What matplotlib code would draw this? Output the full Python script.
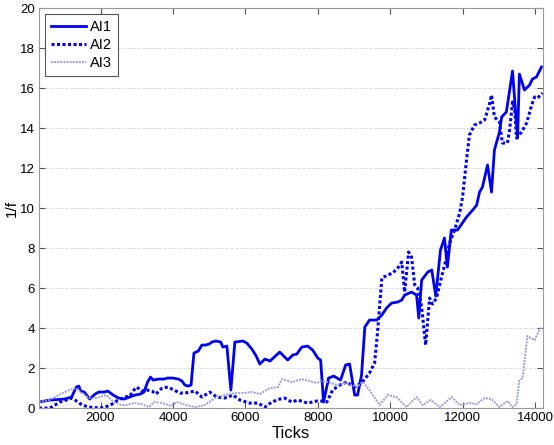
import numpy as np
import matplotlib
matplotlib.use("Agg")
import matplotlib.pyplot as plt

plt.rcParams['font.family'] = ['Liberation Sans', 'DejaVu Sans']

# AI1 (solid)
ai1_x = [300, 600, 1000, 1200, 1330, 1400, 1450, 1550, 1700, 1850, 1950, 2100, 2200,
         2350, 2500, 2650, 2800, 2950, 3100, 3200, 3300, 3380, 3450, 3600, 3750, 3850,
         4000, 4150, 4250, 4330, 4420, 4500, 4580, 4700, 4800, 4900, 5000, 5076, 5186,
         5320, 5380, 5490, 5600, 5710, 5930, 6040, 6180, 6300, 6400, 6540, 6680, 6950,
         7170, 7310, 7420, 7560, 7720, 7860, 8000, 8080, 8160, 8300, 8440, 8630, 8770,
         8880, 9020, 9100, 9210, 9300, 9430, 9630, 9770, 9900, 10040, 10210, 10320,
         10400, 10590, 10730, 10790, 10870, 11040, 11150, 11260, 11390, 11500, 11580,
         11690, 11860, 12110, 12280, 12390, 12470, 12550, 12690, 12800, 12880, 13020,
         13080, 13210, 13380, 13520, 13570, 13710, 13850, 13930, 14040, 14180]
ai1_y = [0.3, 0.4, 0.45, 0.55, 1.05, 1.1, 0.85, 0.8, 0.45, 0.7, 0.8, 0.8, 0.85,
         0.65, 0.5, 0.45, 0.55, 0.65, 0.7, 0.8, 1.3, 1.55, 1.4, 1.45, 1.45, 1.5,
         1.5, 1.45, 1.35, 1.15, 1.1, 1.15, 2.75, 2.85, 3.15, 3.15, 3.2, 3.3, 3.35,
         3.3, 3.05, 3.1, 0.9, 3.3, 3.35, 3.25, 2.95, 2.6, 2.2, 2.45, 2.35, 2.8,
         2.4, 2.65, 2.7, 3.05, 3.1, 2.9, 2.5, 2.4, 0.3, 1.5, 1.6, 1.4, 2.15,
         2.2, 0.65, 0.65, 1.65, 4.05, 4.4, 4.4, 4.65, 5.0, 5.25, 5.3, 5.4,
         5.65, 5.8, 5.65, 4.5, 6.4, 6.8, 6.9, 5.6, 7.9, 8.5, 7.05,
         8.9, 8.9, 9.55, 9.9, 10.15, 10.8, 11.05, 12.15, 10.8, 12.9, 13.8,
         14.55, 14.8, 16.85, 13.5, 16.7, 15.9, 16.15, 16.45, 16.55, 17.05]

# AI2 (dotted)
ai2_x = [300, 600, 880, 1050, 1210, 1380, 1490, 1680, 1990, 2130, 2320, 2480, 2680,
         2810, 2920, 3010, 3120, 3280, 3420, 3530, 3700, 3860, 4030, 4190, 4330, 4470,
         4610, 4800, 5020, 5210, 5430, 5660, 5850, 6120, 6350, 6540, 6730, 6950, 7090,
         7280, 7450, 7720, 7970, 8140, 8250, 8410, 8610, 8800, 9020, 9210, 9430, 9570,
         9650, 9770, 9930, 10070, 10210, 10320, 10400, 10510, 10590, 10680, 10760,
         10870, 10980, 11090, 11170, 11280, 11420, 11560, 11640, 11780, 11920, 12000,
         12110, 12190, 12330, 12470, 12610, 12750, 12800, 12880, 13020, 13100, 13240,
         13300, 13380, 13440, 13490, 13630, 13770, 13910, 13990, 14070, 14210]
ai2_y = [0.0, 0.0, 0.3, 0.4, 0.5, 0.3, 0.15, 0.05, 0.0, 0.05, 0.2, 0.4, 0.55,
         0.6, 0.9, 1.05, 0.85, 0.9, 0.85, 0.7, 1.0, 1.05, 0.9, 0.75, 0.75, 0.8,
         0.85, 0.55, 0.8, 0.55, 0.5, 0.65, 0.4, 0.25, 0.25, 0.05, 0.3, 0.45, 0.5,
         0.3, 0.4, 0.25, 0.35, 0.35, 0.3, 0.9, 1.15, 1.3, 1.05, 1.25, 1.75, 2.25,
         3.75, 6.5, 6.65, 6.75, 7.0, 7.3, 5.8, 7.8, 7.55, 6.15, 6.0,
         5.05, 3.15, 5.5, 5.2, 5.5, 6.55, 7.55, 8.25, 8.9, 9.75, 10.55,
         12.4, 13.65, 14.15, 14.25, 14.4, 15.25, 15.65, 14.55, 14.3, 13.25, 13.25,
         13.9, 15.3, 15.0, 13.5, 13.8, 14.25, 15.15, 15.55, 15.5, 15.75]

# AI3 (light dotted)
ai3_x = [300, 580, 850, 1130, 1320, 1490, 1680, 1880, 2150, 2370, 2570, 2700, 2920,
         3140, 3340, 3480, 3700, 3950, 4110, 4360, 4610, 4880, 5160, 5430, 5710, 5930,
         6180, 6400, 6680, 6900, 7010, 7280, 7560, 7780, 7970, 8110, 8390, 8520, 8800,
         9080, 9240, 9430, 9710, 9930, 10180, 10450, 10730, 10900, 11120, 11370, 11700,
         11920, 12190, 12390, 12600, 12800, 13020, 13240, 13380, 13490, 13570, 13660,
         13790, 13990, 14120, 14210]
ai3_y = [0.3, 0.4, 0.65, 0.9, 1.0, 0.75, 0.5, 0.5, 0.65, 0.3, 0.15, 0.15, 0.25,
         0.2, 0.05, 0.3, 0.25, 0.1, 0.3, 0.15, 0.05, 0.15, 0.5, 0.65, 0.75, 0.75,
         0.8, 0.7, 1.0, 1.05, 1.45, 1.3, 1.45, 1.35, 1.25, 1.35, 1.25, 1.15, 1.25,
         1.05, 1.3, 0.9, 0.15, 0.65, 0.55, 0.05, 0.55, 0.15, 0.4, 0.05, 0.55,
         0.15, 0.25, 0.2, 0.5, 0.45, 0.05, 0.35, 0.05, 0.2, 1.4, 1.5,
         3.6, 3.4, 3.9, 4.05]

x_ticks = [2000, 4000, 6000, 8000, 10000, 12000, 14000]
y_ticks = [0, 2, 4, 6, 8, 10, 12, 14, 16, 18, 20]

fig = plt.figure(figsize=(5.54, 4.45), dpi=100)
ax = fig.add_axes([0.0704, 0.083, 0.9096, 0.899])

ax.plot(ai1_x, ai1_y, color='#0000f0', lw=2.0, ls='-', label='AI1')
ax.plot(ai2_x, ai2_y, color='#0000f0', lw=2.2, ls=(0, (1, 0.8)), label='AI2')
ax.plot(ai3_x, ai3_y, color='#9c9cd8', lw=1.4, ls=(0, (1, 0.6)), label='AI3')

ax.set_xlim(300, 14220)
ax.set_ylim(0, 20)
ax.set_xticks(x_ticks)
ax.set_yticks(y_ticks)
ax.yaxis.grid(True, color='#dddddd', ls='--', lw=0.7)
ax.set_axisbelow(True)
ax.tick_params(direction='in', top=True, right=True, labelsize=9.5, length=4,
               color='#555555', pad=3)
for s in ax.spines.values():
    s.set_color('#999999')

ax.set_xlabel('Ticks', fontsize=12, labelpad=1)
ax.set_ylabel('1/f', fontsize=11, labelpad=1)

leg = ax.legend(loc='upper left', fontsize=10.5, fancybox=False, framealpha=1,
                edgecolor='#555555', handlelength=2.4, borderaxespad=0.4,
                handletextpad=0.3, labelspacing=0.3, borderpad=0.4)
leg.get_frame().set_linewidth(0.8)

fig.savefig('out.png', dpi=100)
